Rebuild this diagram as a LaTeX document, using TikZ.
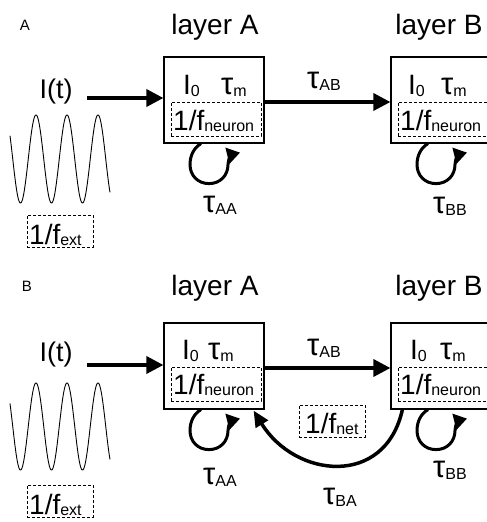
\documentclass[tikz,border=0pt]{standalone}
\usepackage{fontspec}
\setmainfont{Liberation Sans}
\usetikzlibrary{arrows.meta}
\newcommand\fbigx{\fontsize{28}{30}\selectfont}
\newcommand\fmidx{\fontsize{27}{29}\selectfont}
\newcommand\fboxx{\fontsize{28}{30}\selectfont}
\newcommand\fsubx{\fontsize{16}{18}\selectfont}
\newcommand\fpanelx{\fontsize{15}{17}\selectfont}
\newcommand\sbs[1]{\raisebox{-2pt}{\fsubx #1}}
\newcommand\sbf[1]{\raisebox{-1pt}{\fsubx #1}}
\newcommand\tauG{{\fontsize{31}{31}\selectfont τ}}
\tikzset{
  nbox/.style={draw, line width=1.2pt, minimum width=100pt, minimum height=86pt, inner sep=0pt},
  dbox/.style={draw, line width=0.9pt, dash pattern=on 3pt off 2pt, inner sep=0pt},
  txt/.style={inner sep=0pt, anchor=base west, font=\fboxx},
  ctxt/.style={inner sep=0pt, anchor=base, font=\fboxx},
  bigarrow/.style={line width=3.5pt, -{Triangle[length=17pt,width=17pt]}},
  looparrow/.style={line width=3pt, -{Triangle[length=13pt,width=16pt]}},
  wave/.style={line width=0.9pt},
  selfloop/.pic={\draw[looparrow] (-13,0) .. controls (-20,4) and (-24,12) .. (-24,21) .. controls (-24,32) and (-16,40) .. (-5,40) .. controls (6,40) and (14,32) .. (14,21) .. controls (14,15) and (18,11) .. (26,9);}
}
\begin{document}
\begin{tikzpicture}[x=1pt,y=-1pt]
\useasboundingbox (0,0) rectangle (487,522);
% ================= Panel A =================
\node[inner sep=0pt, font=\fpanelx] (pA) at (25,25) {A};
\node[ctxt, font=\fbigx] (lA1) at (215,34) {layer A};
\node[ctxt, font=\fbigx] (lB1) at (439,34) {layer B};
\node[nbox] (A1) at (214,100) {};
\node[nbox] (B1) at (441,100) {};
\node[dbox, minimum width=90pt, minimum height=34pt] (nA1) at (216,119) {};
\node[dbox, minimum width=90pt, minimum height=34pt] (nB1) at (443,119) {};
\node[txt] (iA1) at (183,94) {I\sbs{0}};
\node[txt] (tA1) at (221,94) {\tauG\sbs{m}};
\node[txt] (iB1) at (408,94) {I\sbs{0}};
\node[txt] (tB1) at (441,94) {\tauG\sbs{m}};
\node[txt] (fA1) at (173,130) {1/f\sbf{neuron}};
\node[txt] (fB1) at (400,130) {1/f\sbf{neuron}};
\node[ctxt, font=\fmidx] (It1) at (56,98) {I(t)};
\coordinate (s1) at (87,98);
\draw[bigarrow] (s1) -- ([yshift=2pt]A1.west);
\draw[bigarrow] ([yshift=-2pt]A1.east) -- ([yshift=-2pt]B1.west);
\node[ctxt] (tAB1) at (324,88) {\tauG\sbs{AB}};
\pic at (A1.south) {selfloop};
\pic at (B1.south) {selfloop};
\node[ctxt] (tAA1) at (220,212) {\tauG\sbs{AA}};
\node[ctxt] (tBB1) at (450,213) {\tauG\sbs{BB}};
\draw[wave] plot[domain=10:110, samples=200] (\x, {159+44*cos(11.6129*(\x-20.5))});
\node[dbox, minimum width=66pt, minimum height=32pt] (fe1) at (60,231) {};
\node[txt] (fet1) at (29,244) {1/f\sbf{ext}};
% ================= Panel B =================
\node[inner sep=0pt, font=\fpanelx] (pB) at (27,286) {B};
\node[ctxt, font=\fbigx] (lA2) at (215,295) {layer A};
\node[ctxt, font=\fbigx] (lB2) at (439,295) {layer B};
\node[nbox] (A2) at (214,366) {};
\node[nbox] (B2) at (441,366) {};
\node[dbox, minimum width=90pt, minimum height=34pt] (nA2) at (216,384) {};
\node[dbox, minimum width=90pt, minimum height=34pt] (nB2) at (443,384) {};
\node[txt] (iA2) at (182,359) {I\sbs{0}};
\node[txt] (tA2) at (208,359) {\tauG\sbs{m}};
\node[txt] (iB2) at (410,359) {I\sbs{0}};
\node[txt] (tB2) at (440,359) {\tauG\sbs{m}};
\node[txt] (fA2) at (173,394) {1/f\sbf{neuron}};
\node[txt] (fB2) at (400,394) {1/f\sbf{neuron}};
\node[ctxt, font=\fmidx] (It2) at (56,361) {I(t)};
\coordinate (s2) at (87,365);
\draw[bigarrow] (s2) -- ([yshift=1pt]A2.west);
\draw[bigarrow] ([yshift=-2pt]A2.east) -- ([yshift=-2pt]B2.west);
\node[ctxt] (tAB2) at (324,355) {\tauG\sbs{AB}};
\pic at (A2.south) {selfloop};
\pic at (B2.south) {selfloop};
\node[ctxt] (tAA2) at (220,484) {\tauG\sbs{AA}};
\node[ctxt] (tBB2) at (450,477) {\tauG\sbs{BB}};
\draw[wave] plot[domain=10:110, samples=200] (\x, {426.5+43.5*cos(11.6129*(\x-20.5))});
\node[dbox, minimum width=66pt, minimum height=32pt] (fe2) at (60,501) {};
\node[txt] (fet2) at (29,514) {1/f\sbf{ext}};
% feedback B -> A
\draw[line width=3.5pt, -{Triangle[length=16pt,width=14pt]}]
  ([xshift=12pt]B2.south west) .. controls (385,488) and (295,478) .. ([xshift=-11pt,yshift=-1pt]A2.south east);
\node[dbox, minimum width=66pt, minimum height=32pt] (fn2) at (332,421) {};
\node[txt] (fnt2) at (305,433) {1/f\sbf{net}};
\node[ctxt] (tBA2) at (340,504) {\tauG\sbs{BA}};
\end{tikzpicture}
\end{document}
